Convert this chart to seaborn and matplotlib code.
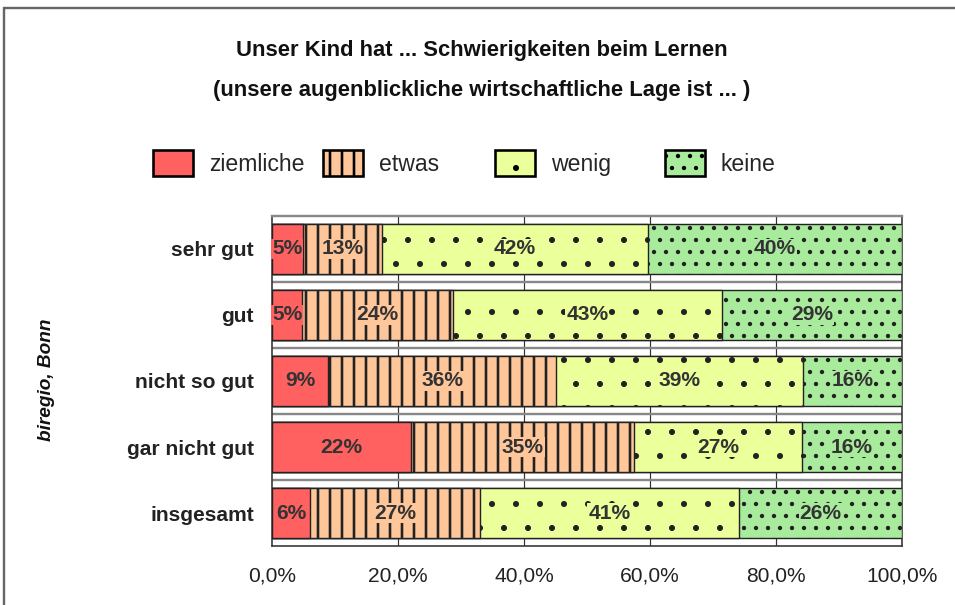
import numpy as np
import pandas as pd
import seaborn as sns
import matplotlib.pyplot as plt
from matplotlib.patches import Patch, Rectangle

# Anteile in %
kategorien = ['sehr gut', 'gut', 'nicht so gut', 'gar nicht gut', 'insgesamt']
ziemliche = [4.9, 4.8, 8.9, 22.1, 6.0]
etwas = [12.6, 23.9, 36.2, 35.4, 27.0]
wenig = [42.2, 42.7, 39.2, 26.6, 41.1]
keine = [40.3, 28.6, 15.7, 15.9, 25.9]

serien = ['ziemliche', 'etwas', 'wenig', 'keine']
farben = ['#FF6161', '#FFC69A', '#EBFF9B', '#A9EB9C']
muster = ['', '||', '.', '..']
muster_lw = [1.0, 1.3, 0.6, 0.95]
xticks = [0, 20, 40, 60, 80, 100]

sns.set_theme(style='white')
plt.rcParams['font.family'] = ['Liberation Sans', 'DejaVu Sans']
plt.rcParams['hatch.color'] = 'black'

df = pd.DataFrame({'Lage': kategorien, 'ziemliche': ziemliche,
                   'etwas': etwas, 'wenig': wenig, 'keine': keine})
kum = df[serien].cumsum(axis=1)
kum['Lage'] = df['Lage']

fig = plt.figure(figsize=(955 / 144, 605 / 144), dpi=144)
ax = fig.add_axes([0.2848, 0.0975, 0.6597, 0.5455])


def setze_muster_lw(patch, lw):
    # ab matplotlib 3.10 pro Patch einstellbar
    if hasattr(patch, 'set_hatch_linewidth'):
        patch.set_hatch_linewidth(lw)


# gestapelte Balken: kumulierte Summen von hinten nach vorne zeichnen
for i in reversed(range(len(serien))):
    plt.rcParams['hatch.linewidth'] = muster_lw[i]
    n_vorher = len(ax.patches)
    sns.barplot(data=kum, x=serien[i], y='Lage', orient='h', color=farben[i],
                hatch=muster[i], edgecolor='#222222', linewidth=0.7,
                width=0.77, saturation=1, errorbar=None, ax=ax, zorder=3)
    for p in ax.patches[n_vorher:]:
        setze_muster_lw(p, muster_lw[i])

# Beschriftungen in den Segmenten
for j in range(len(kategorien)):
    for i, s in enumerate(serien):
        wert = df[s].iloc[j]
        mitte = kum[s].iloc[j] - wert / 2
        ax.text(mitte, j, f'{round(wert)}%', ha='center', va='center',
                fontsize=10.5, fontweight='bold', color='#333333', zorder=5,
                bbox=dict(facecolor=farben[i], edgecolor='none', pad=0.4))

ax.set_xlim(0, 100)
ax.set_ylim(len(kategorien) - 0.5, -0.5)
ax.set_xticks(xticks)
ax.set_xticklabels([f'{v:.1f}%'.replace('.', ',') for v in xticks])
ax.tick_params(axis='x', length=0, pad=10, labelsize=10.5, labelcolor='#222222')
ax.tick_params(axis='y', length=0, pad=9, labelsize=10.5, labelcolor='#222222')
for lbl in ax.get_yticklabels():
    lbl.set_fontweight('bold')
ax.set_xlabel('')
ax.set_ylabel('')

# Gitterlinien
for v in xticks[1:-1]:
    ax.axvline(v, color='#333333', lw=0.6, zorder=1)
for j in range(len(kategorien) - 1):
    ax.axhline(j + 0.5, color='#888888', lw=1.2, zorder=1)

for side in ['left', 'right', 'bottom']:
    ax.spines[side].set_color('#333333')
    ax.spines[side].set_linewidth(0.8)
ax.spines['top'].set_color('#888888')
ax.spines['top'].set_linewidth(1.2)

# Legende
legend_x = [0.160, 0.338, 0.518, 0.696]
for i, s in enumerate(serien):
    plt.rcParams['hatch.linewidth'] = muster_lw[i]
    h = Patch(facecolor=farben[i], hatch=muster[i], edgecolor='black', linewidth=1.3)
    leg = fig.legend(handles=[h], labels=[s], loc='center left',
                     bbox_to_anchor=(legend_x[i], 0.7306), frameon=False,
                     fontsize=11.5, handlelength=1.74, handleheight=1.39,
                     handletextpad=0.7, borderpad=0, borderaxespad=0)
    for p in leg.get_patches():
        setze_muster_lw(p, muster_lw[i])

fig.text(0.504, 0.917, 'Unser Kind hat ... Schwierigkeiten beim Lernen',
         ha='center', va='center', fontsize=11, fontweight='bold', color='#111111')
fig.text(0.504, 0.851, '(unsere augenblickliche wirtschaftliche Lage ist ... )',
         ha='center', va='center', fontsize=11, fontweight='bold', color='#111111')
fig.text(0.049, 0.372, 'biregio, Bonn', rotation=90, ha='center', va='center',
         fontsize=9.5, style='italic', fontweight='bold', color='#111111')

# Rahmen um das Diagramm
fig.add_artist(Rectangle((4 / 955, -0.05), 1.0, 1 - 8 / 605 + 0.05,
                         transform=fig.transFigure, fill=False,
                         edgecolor='#666666', linewidth=1.2))

fig.savefig('out.png', dpi=144)
